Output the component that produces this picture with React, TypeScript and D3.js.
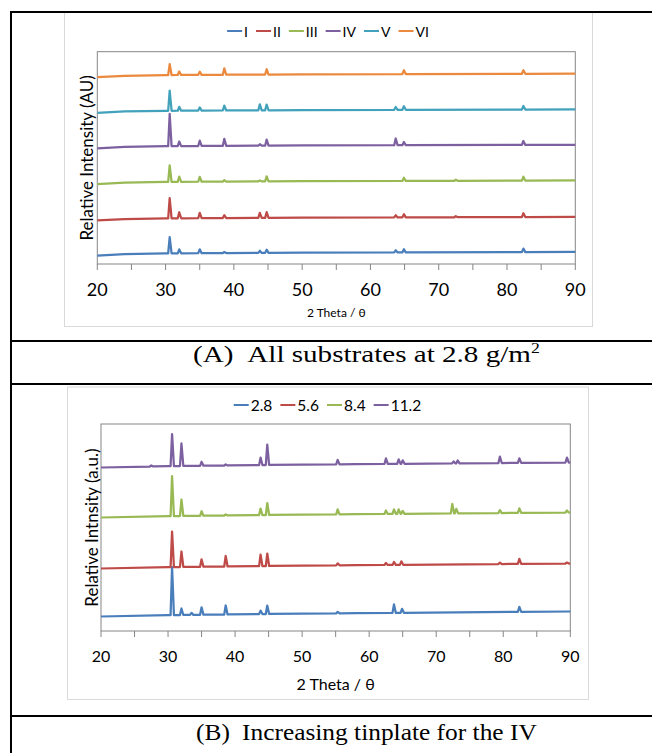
import React from "react";
import * as d3 from "d3";

// ---------- data ----------
const thetaTicks = [20, 30, 40, 50, 60, 70, 80, 90];
const thetaMinor = [25, 35, 45, 55, 65, 75, 85];

// Chart A: all substrates at 2.8 g/m2
const seriesA = ["I", "II", "III", "IV", "V", "VI"];
const colorsA = ["#4A7EBB", "#BE4B48", "#98B954", "#7D60A0", "#42A1BB", "#EB8A3E"];
const offsetsA = [0.28, 1.27, 2.3, 3.31, 4.31, 5.32];
const baselineA: [number, number][] = [[20, -0.04], [24, 0], [30, 0.02], [50, 0.04], [90, 0.06]];
const peaksA: [number, number][][] = [
  // I
  [[30.6, 0.46], [32.0, 0.11], [35.0, 0.11], [38.6, 0.03], [43.8, 0.06], [44.8, 0.09], [63.7, 0.06], [64.9, 0.09], [82.4, 0.1]],
  // II
  [[30.6, 0.57], [32.0, 0.17], [35.0, 0.15], [38.6, 0.08], [43.8, 0.14], [44.8, 0.16], [63.7, 0.06], [64.9, 0.09], [72.5, 0.03], [82.4, 0.11]],
  // III
  [[30.6, 0.47], [32.0, 0.15], [35.0, 0.14], [38.6, 0.04], [43.8, 0.03], [44.8, 0.14], [64.9, 0.09], [72.5, 0.03], [82.4, 0.11]],
  // IV
  [[30.6, 0.91], [32.0, 0.13], [35.0, 0.15], [38.6, 0.2], [43.8, 0.04], [44.8, 0.17], [63.7, 0.19], [64.9, 0.09], [82.4, 0.11]],
  // V
  [[30.6, 0.57], [32.0, 0.11], [35.0, 0.09], [38.6, 0.14], [43.8, 0.17], [44.8, 0.16], [63.7, 0.08], [64.9, 0.1], [82.4, 0.1]],
  // VI
  [[30.6, 0.31], [32.0, 0.1], [35.0, 0.09], [38.6, 0.18], [44.8, 0.15], [64.9, 0.11], [82.4, 0.1]],
];

// Chart B: increasing tinplate for IV
const seriesB = ["2.8", "5.6", "8.4", "11.2"];
const colorsB = ["#4A7EBB", "#BE4B48", "#98B954", "#7D60A0"];
const offsetsB = [0.29, 1.25, 2.27, 3.27];
const baselineB: [number, number][] = [[20, 0], [30, 0.027], [45, 0.05], [58, 0.066], [90, 0.1]];
const peaksB: [number, number][][] = [
  // 2.8
  [[30.6, 0.96], [32.0, 0.13], [33.5, 0.04], [35.0, 0.15], [38.6, 0.18], [43.8, 0.07], [44.8, 0.17], [55.3, 0.03], [63.7, 0.17], [64.9, 0.08], [82.4, 0.1]],
  // 5.6
  [[30.6, 0.71], [32.0, 0.31], [35.0, 0.15], [38.6, 0.21], [43.8, 0.23], [44.8, 0.25], [55.3, 0.04], [62.5, 0.04], [63.7, 0.06], [64.8, 0.07], [79.5, 0.03], [82.4, 0.1], [89.5, 0.02]],
  // 8.4
  [[30.6, 0.8], [32.0, 0.33], [35.0, 0.09], [38.6, 0.02], [43.8, 0.13], [44.8, 0.24], [55.3, 0.1], [62.5, 0.07], [63.7, 0.09], [64.4, 0.09], [65.0, 0.06], [72.4, 0.19], [73.0, 0.09], [79.5, 0.06], [82.4, 0.09], [89.5, 0.04]],
  // 11.2
  [[27.5, 0.02], [30.6, 0.64], [32.0, 0.45], [35.0, 0.08], [38.6, 0.02], [43.8, 0.15], [44.8, 0.41], [55.3, 0.09], [62.5, 0.11], [64.4, 0.09], [65.0, 0.07], [72.6, 0.04], [73.2, 0.06], [79.5, 0.13], [82.4, 0.09], [89.5, 0.1]],
];

const captionA = "(A)";
const captionAText = "All substrates at 2.8 g/m";
const captionASup = "2";
const captionB = "(B)";
const captionBText = "Increasing tinplate for the IV";

// ---------- helpers ----------
const SANS = "Lato, 'Open Sans', sans-serif";
const SERIF = "'Liberation Serif', 'Times New Roman', serif";

let _ctx: CanvasRenderingContext2D | null = null;
function measure(text: string, size: number, family = SANS) {
  if (!_ctx) _ctx = document.createElement("canvas").getContext("2d");
  if (!_ctx) return text.length * size * 0.5;
  _ctx.font = `${size}px ${family}`;
  return _ctx.measureText(text).width;
}

function tracePoints(baseline: [number, number][], peaks: [number, number][], offset: number) {
  const base = d3.scaleLinear().domain(baseline.map((d) => d[0])).range(baseline.map((d) => d[1]));
  const pts: [number, number][] = [];
  const L = 0.22, R = 0.28;
  baseline.forEach(([x, y]) => {
    const inside = peaks.some(([p]) => x > p - L && x < p + R);
    if (!inside) pts.push([x, y + offset]);
  });
  peaks.forEach(([p, h]) => {
    pts.push([p - L, base(p - L) + offset]);
    pts.push([p, base(p) + h + offset]);
    pts.push([p + R, base(p + R) + offset]);
  });
  pts.sort((a, b) => a[0] - b[0]);
  return pts;
}

type Layout = {
  frame: { l: number; t: number; r: number; b: number };
  plot: { l: number; t: number; r: number; b: number };
  yMax: number;
  legendY: number;
  legendSize: number;
  tickY: number;
  tickSize: number;
  xTitleY: number;
  xTitleSize: number;
  yTitleX: number;
  yTitleSize: number;
  yTitle: string;
};

function Chart({
  L,
  names,
  colors,
  offsets,
  baseline,
  peaks,
}: {
  L: Layout;
  names: string[];
  colors: string[];
  offsets: number[];
  baseline: [number, number][];
  peaks: [number, number][][];
}) {
  const x = d3.scaleLinear().domain([20, 90]).range([L.plot.l, L.plot.r]);
  const y = d3.scaleLinear().domain([0, L.yMax]).range([L.plot.b, L.plot.t]);
  const line = d3
    .line<[number, number]>()
    .x((d) => x(d[0]))
    .y((d) => y(d[1]));

  const lineLen = 15;
  const gapLT = 2;
  const gapItem = 8;
  const widths = names.map((n) => lineLen + gapLT + measure(n, L.legendSize));
  const total = d3.sum(widths) + gapItem * (names.length - 1);
  const cx = (L.frame.l + L.frame.r) / 2;
  let lx = cx - total / 2;
  const legendItems = names.map((n, i) => {
    const item = { x: lx, name: n, color: colors[i] };
    lx += widths[i] + gapItem;
    return item;
  });

  const axisColor = "#868686";
  return (
    <g>
      <rect
        x={L.frame.l + 0.5}
        y={L.frame.t + 0.5}
        width={L.frame.r - L.frame.l}
        height={L.frame.b - L.frame.t}
        fill="#fff"
        stroke="#D9D9D9"
        strokeWidth={1}
      />
      <rect
        x={L.plot.l}
        y={L.plot.t}
        width={L.plot.r - L.plot.l}
        height={L.plot.b - L.plot.t}
        fill="none"
        stroke={axisColor}
        strokeWidth={1}
      />
      {[...thetaTicks, ...thetaMinor].map((t) => (
        <line key={"t" + t} x1={x(t)} x2={x(t)} y1={L.plot.b} y2={L.plot.b + 6} stroke={axisColor} strokeWidth={1} />
      ))}
      {thetaTicks.map((t) => (
        <text
          key={"l" + t}
          x={x(t)}
          y={L.tickY}
          textAnchor="middle"
          dominantBaseline="central"
          fontFamily={SANS}
          fontSize={L.tickSize}
          fill="#000"
        >
          {t}
        </text>
      ))}
      <text
        x={(L.plot.l + L.plot.r) / 2}
        y={L.xTitleY}
        textAnchor="middle"
        dominantBaseline="central"
        fontFamily={SANS}
        fontSize={L.xTitleSize}
        fill="#000"
      >
        2 Theta / θ
      </text>
      <text
        transform={`translate(${L.yTitleX},${(L.plot.t + L.plot.b) / 2}) rotate(-90)`}
        textAnchor="middle"
        dominantBaseline="central"
        fontFamily={SANS}
        fontSize={L.yTitleSize}
        fill="#000"
      >
        {L.yTitle}
      </text>
      {names.map((n, i) => (
        <path
          key={"s" + n}
          d={line(tracePoints(baseline, peaks[i], offsets[i])) || ""}
          fill="none"
          stroke={colors[i]}
          strokeWidth={2.25}
          strokeLinejoin="round"
        />
      ))}
      {legendItems.map((it) => (
        <g key={"lg" + it.name}>
          <line x1={it.x} x2={it.x + lineLen} y1={L.legendY} y2={L.legendY} stroke={it.color} strokeWidth={2} />
          <text
            x={it.x + lineLen + gapLT}
            y={L.legendY}
            dominantBaseline="central"
            fontFamily={SANS}
            fontSize={L.legendSize}
            fill="#000"
          >
            {it.name}
          </text>
        </g>
      ))}
    </g>
  );
}

const layoutA: Layout = {
  frame: { l: 64, t: 12, r: 592, b: 326 },
  plot: { l: 97.3, t: 51.7, r: 575.3, b: 264 },
  yMax: 6,
  legendY: 31,
  legendSize: 14,
  tickY: 289,
  tickSize: 18,
  xTitleY: 312,
  xTitleSize: 12,
  yTitleX: 86,
  yTitleSize: 17,
  yTitle: "Relative Intensity (AU)",
};

const layoutB: Layout = {
  frame: { l: 67, t: 386.5, r: 588, b: 699 },
  plot: { l: 101, t: 424, r: 570.3, b: 631 },
  yMax: 4.14,
  legendY: 405,
  legendSize: 15.5,
  tickY: 655.5,
  tickSize: 16,
  xTitleY: 683,
  xTitleSize: 16,
  yTitleX: 91,
  yTitleSize: 17,
  yTitle: "Relative Intnsity (a.u.)",
};

function Caption({ x, y, label, text, sup, targetWidth }: { x: number; y: number; label: string; text: string; sup?: string; targetWidth: number }) {
  const size = 23;
  const supSize = 14;
  const gap = 11;
  const natural = measure(label, size, SERIF) + gap + measure(text, size, SERIF) + (sup ? measure(sup, supSize, SERIF) : 0);
  const k = targetWidth / natural;
  return (
    <text transform={`translate(${x},${y}) scale(${k},1)`} fontFamily={SERIF} fontSize={size} fill="#000">
      {label}
      <tspan dx={gap}>{text}</tspan>
      {sup ? (
        <tspan dy={-9} fontSize={supSize}>
          {sup}
        </tspan>
      ) : null}
    </text>
  );
}

export default function App() {
  return (
    <svg
      width={652}
      height={753}
      viewBox="0 0 652 753"
      style={{ position: "absolute", left: 0, top: 0, background: "#fff" }}
    >
      <rect x={0} y={0} width={652} height={753} fill="#fff" />
      <Chart L={layoutA} names={seriesA} colors={colorsA} offsets={offsetsA} baseline={baselineA} peaks={peaksA} />
      <Chart L={layoutB} names={seriesB} colors={colorsB} offsets={offsetsB} baseline={baselineB} peaks={peaksB} />
      <g stroke="#000" strokeWidth={2}>
        <line x1={10} x2={652} y1={12} y2={12} />
        <line x1={11} x2={11} y1={11} y2={753} />
        <line x1={10} x2={652} y1={341} y2={341} />
        <line x1={10} x2={652} y1={384} y2={384} />
        <line x1={10} x2={652} y1={716} y2={716} />
      </g>
      <Caption x={193} y={362} label={captionA} text={captionAText} sup={captionASup} targetWidth={347} />
      <Caption x={196} y={740} label={captionB} text={captionBText} targetWidth={341} />
    </svg>
  );
}
